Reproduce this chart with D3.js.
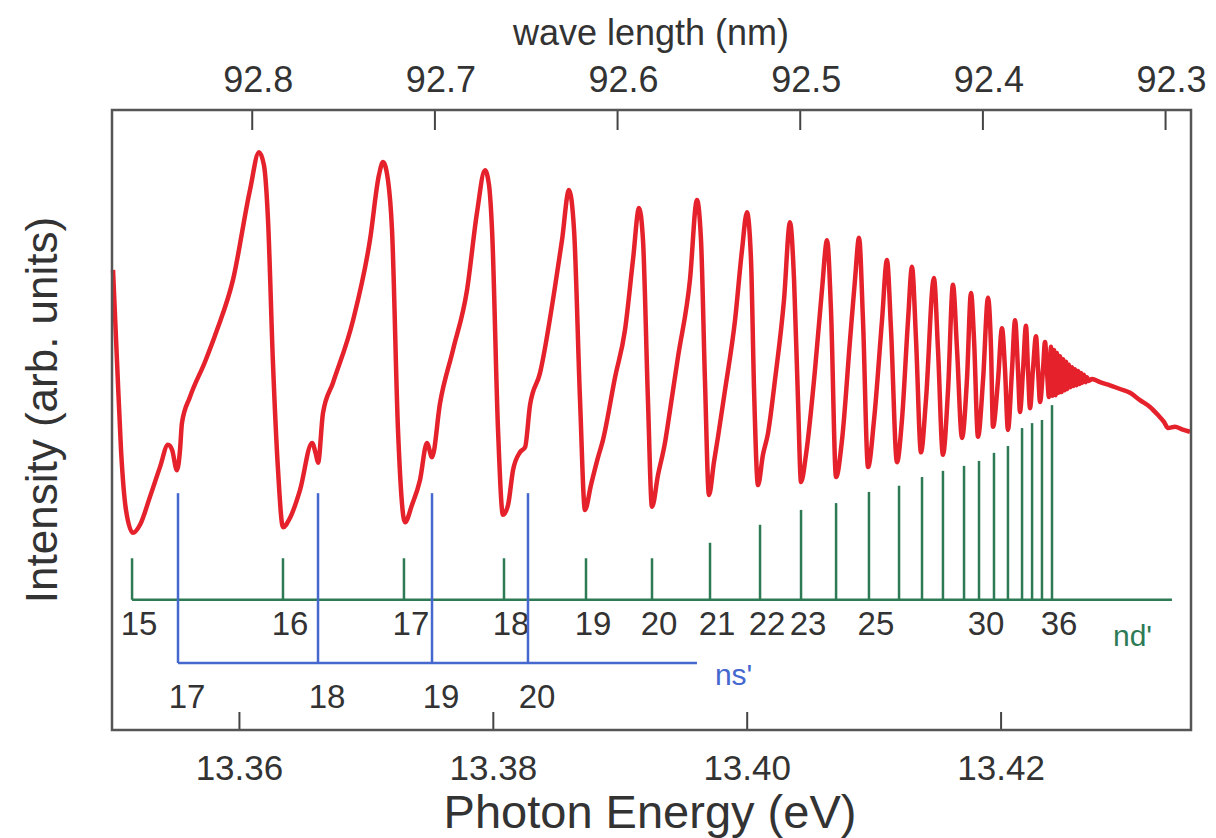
<!DOCTYPE html>
<html>
<head>
<meta charset="utf-8">
<script src="https://cdn.jsdelivr.net/npm/d3@7"></script>
<style>
body { margin: 0; background: #fff; }
text { font-family: "Liberation Sans", Arial, sans-serif; }
</style>
</head>
<body>
<div id="chart"></div>
<script>
// photon energy (eV) of the sampled points of the spectrum
const energy = [
  13.35008, 13.35039, 13.35071, 13.35110, 13.35165, 13.35221, 13.35299, 13.35378, 13.35441, 13.35473,
  13.35512, 13.35536, 13.35551, 13.35614, 13.35733, 13.35827, 13.35953, 13.36087, 13.36158, 13.36197,
  13.36229, 13.36268, 13.36308, 13.36347, 13.36402, 13.36481, 13.36576, 13.36607, 13.36623, 13.36662,
  13.36741, 13.36899, 13.37032, 13.37103, 13.37135, 13.37174, 13.37206, 13.37253, 13.37308, 13.37363,
  13.37426, 13.37481, 13.37521, 13.37584, 13.37686, 13.37797, 13.37875, 13.37938, 13.37970, 13.37994,
  13.38041, 13.38080, 13.38120, 13.38159, 13.38214, 13.38254, 13.38293, 13.38372, 13.38490, 13.38545,
  13.38600, 13.38640, 13.38687, 13.38726, 13.38773, 13.38829, 13.38868, 13.38963, 13.39041, 13.39104,
  13.39152, 13.39183, 13.39222, 13.39254, 13.39301, 13.39356, 13.39396, 13.39459, 13.39553, 13.39608,
  13.39640, 13.39671, 13.39703, 13.39742, 13.39774, 13.39829, 13.39908, 13.39963, 13.40002, 13.40034,
  13.40058, 13.40089, 13.40128, 13.40168, 13.40223, 13.40294, 13.40341, 13.40373, 13.40404, 13.40428,
  13.40467, 13.40538, 13.40593, 13.40633, 13.40664, 13.40704, 13.40751, 13.40814, 13.40853, 13.40885,
  13.40916, 13.40956, 13.41003, 13.41066, 13.41105, 13.41137, 13.41184, 13.41223, 13.41271, 13.41302,
  13.41334, 13.41373, 13.41412, 13.41475, 13.41507, 13.41546, 13.41586, 13.41625, 13.41657, 13.41696,
  13.41735, 13.41767, 13.41791, 13.41822, 13.41862, 13.41901, 13.41925, 13.41940, 13.41980, 13.42011,
  13.42035, 13.42058, 13.42090, 13.42114, 13.42137, 13.42153, 13.42177, 13.42200, 13.42216, 13.42232,
  13.42255, 13.42279, 13.42295, 13.42311, 13.42334, 13.42350, 13.42366, 13.42381,
  13.42397, 13.42409, 13.42421, 13.42433, 13.42444, 13.42456, 13.42468, 13.42480, 13.42492, 13.42504,
  13.42515, 13.42527, 13.42539, 13.42551, 13.42563, 13.42574, 13.42586, 13.42598, 13.42610, 13.42622,
  13.42633, 13.42645, 13.42657, 13.42669, 13.42681, 13.42693,
  13.42720, 13.42783, 13.42862, 13.42941, 13.43020, 13.43098, 13.43177,
  13.43240, 13.43287, 13.43319, 13.43374, 13.43429, 13.43492
];

// intensity (arb. units) at those energies
const intensity = [
  74.2, 59.7, 45.2, 35.5, 31.8, 33.1, 37.6, 42.4, 46.0, 45.2,
  41.9, 45.2, 49.5, 53.7, 59.4, 64.5, 72.6, 87.1, 93.2, 91.1,
  82.3, 59.2, 41.9, 32.7, 34.2, 38.7, 46.3, 44.4, 43.1, 51.1,
  56.0, 66.1, 79.0, 89.5, 91.6, 88.7, 80.6, 48.4, 33.5, 36.3,
  40.3, 46.3, 44.0, 52.7, 61.3, 71.0, 83.4, 90.3, 87.9, 80.6,
  48.4, 34.7, 36.3, 41.9, 44.8, 45.6, 52.4, 57.6, 71.5, 79.0,
  87.1, 80.6, 53.2, 35.5, 39.5, 44.0, 46.8, 56.9, 64.5, 75.8,
  84.2, 79.0, 53.2, 36.0, 41.1, 46.3, 51.6, 60.2, 72.6, 85.5,
  79.0, 56.5, 37.9, 43.2, 47.3, 54.8, 66.1, 77.4, 83.5, 75.8,
  54.8, 39.5, 44.4, 47.9, 56.5, 69.4, 81.9, 72.6, 53.2, 40.0,
  44.4, 58.1, 71.0, 79.0, 67.7, 40.8, 46.8, 62.9, 72.6, 79.4,
  66.1, 42.4, 50.0, 66.1, 75.8, 64.5, 43.2, 50.0, 66.1, 74.7,
  62.9, 44.8, 53.2, 72.9, 61.3, 44.4, 54.8, 71.8, 61.3, 47.1,
  56.5, 70.5, 62.9, 47.3, 56.5, 69.7, 61.3, 48.9, 56.5, 64.8,
  58.1, 48.4, 58.1, 66.1, 58.1, 51.3, 58.1, 65.2, 58.1, 51.9,
  58.1, 63.5, 58.1, 52.9, 58.1, 62.6, 57.7, 53.7,
  61.8, 53.9, 61.3, 54.0, 60.8, 54.4, 60.3, 54.5, 59.8, 54.8,
  59.4, 55.0, 58.9, 55.3, 58.5, 55.5, 58.2, 55.6, 57.9, 55.8,
  57.6, 56.0, 57.3, 56.1, 56.9, 56.3,
  56.6, 56.1, 55.6, 55.0, 54.4, 53.2, 52.1,
  50.8, 49.7, 48.7, 48.9, 48.5, 48.1
];

// nd' series: quantum numbers, energies and marker heights
const ndN = [15, 16, 17, 18, 19, 20, 21, 22, 23, 24, 25, 26, 27, 28, 29, 30, 31, 32, 33, 34, 35, 36];
const ndEnergy = [13.35158, 13.36347, 13.37300, 13.38088, 13.38734, 13.39254, 13.39711, 13.40105,
  13.40428, 13.40704, 13.40963, 13.41200, 13.41381, 13.41546, 13.41712, 13.41830, 13.41948,
  13.42058, 13.42169, 13.42248, 13.42326, 13.42405];
const ndHeight = [27.7, 27.7, 27.7, 27.7, 27.7, 27.7, 30.2, 33.1, 35.5, 36.6, 38.4, 39.4,
  40.8, 41.8, 42.6, 43.4, 44.7, 45.8, 48.7, 49.5, 50.0, 52.4];
const ndLabeled = [15, 16, 17, 18, 19, 20, 21, 22, 23, 25, 30, 36];

// ns' series
const nsN = [17, 18, 19, 20];
const nsEnergy = [13.35520, 13.36623, 13.37521, 13.38277];

const energyTicks = [13.36, 13.38, 13.40, 13.42];
const waveTicks = [92.8, 92.7, 92.6, 92.5, 92.4, 92.3];

// ladder levels (same intensity units)
const ndBase = 21.0, ndEnd = 13.4335;
const nsBase = 10.8, nsTop = 38.2, nsEnd = 13.39608;

const margin = {top: 110, right: 25, bottom: 108, left: 112},
    width = 1216 - margin.left - margin.right,
    height = 838 - margin.top - margin.bottom;

const svg = d3.select("#chart")
    .append("svg")
    .attr("width", 1216)
    .attr("height", 838);

const g = svg.append("g")
    .attr("transform", `translate(${margin.left},${margin.top})`);

const x = d3.scaleLinear().domain([13.35, 13.435]).range([0, width]);
const y = d3.scaleLinear().domain([0, 100]).range([height, 0]);
// wavelength axis on top
const xTop = d3.scaleLinear().domain([92.8765, 92.2858]).range([0, width]);

const red = "#e5222c", green = "#2d7a55", blue = "#4568cf", grey = "#333";

// green nd' ladder
g.append("line")
    .attr("x1", x(ndEnergy[0])).attr("x2", x(ndEnd))
    .attr("y1", y(ndBase)).attr("y2", y(ndBase))
    .attr("stroke", green).attr("stroke-width", 2.5);

g.selectAll(".nd")
    .data(ndN)
    .join("line")
    .attr("class", "nd")
    .attr("x1", (d, i) => x(ndEnergy[i]))
    .attr("x2", (d, i) => x(ndEnergy[i]))
    .attr("y1", y(ndBase))
    .attr("y2", (d, i) => y(ndHeight[i]))
    .attr("stroke", green).attr("stroke-width", 2.5);

g.selectAll(".ndlab")
    .data(ndLabeled)
    .join("text")
    .attr("class", "ndlab")
    .attr("x", d => x(ndEnergy[ndN.indexOf(d)]) + 7)
    .attr("y", y(ndBase) + 35)
    .attr("text-anchor", "middle")
    .attr("font-size", "33px")
    .attr("fill", grey)
    .text(d => d);

g.append("text")
    .attr("x", x(ndEnd) - 59)
    .attr("y", y(ndBase) + 46)
    .attr("font-size", "30px")
    .attr("fill", green)
    .text("nd'");

// blue ns' ladder
g.append("line")
    .attr("x1", x(nsEnergy[0])).attr("x2", x(nsEnd))
    .attr("y1", y(nsBase)).attr("y2", y(nsBase))
    .attr("stroke", blue).attr("stroke-width", 2.5);

g.selectAll(".ns")
    .data(nsN)
    .join("line")
    .attr("class", "ns")
    .attr("x1", (d, i) => x(nsEnergy[i]))
    .attr("x2", (d, i) => x(nsEnergy[i]))
    .attr("y1", y(nsBase))
    .attr("y2", y(nsTop))
    .attr("stroke", blue).attr("stroke-width", 2.5);

g.selectAll(".nslab")
    .data(nsN)
    .join("text")
    .attr("class", "nslab")
    .attr("x", (d, i) => x(nsEnergy[i]) + 9)
    .attr("y", y(nsBase) + 45)
    .attr("text-anchor", "middle")
    .attr("font-size", "33px")
    .attr("fill", grey)
    .text(d => d);

g.append("text")
    .attr("x", x(nsEnd) + 18)
    .attr("y", y(nsBase) + 22)
    .attr("font-size", "30px")
    .attr("fill", blue)
    .text("ns'");

// spectrum
const line = d3.line()
    .x(i => x(energy[i]))
    .y(i => y(intensity[i]))
    .curve(d3.curveMonotoneX);

g.append("path")
    .datum(d3.range(energy.length))
    .attr("d", line)
    .attr("fill", "none")
    .attr("stroke", red)
    .attr("stroke-width", 4.5)
    .attr("stroke-linejoin", "round");

// axes
const bottomAxis = g.append("g")
    .attr("transform", `translate(0,${height})`)
    .call(d3.axisBottom(x).tickValues(energyTicks).tickFormat(d3.format(".2f"))
        .tickSize(-18).tickPadding(25));
bottomAxis.select(".domain").remove();
bottomAxis.selectAll("line").attr("stroke", "#444").attr("stroke-width", 2);
bottomAxis.selectAll("text").attr("font-size", "35px").attr("fill", grey)
    .style("font-family", "'Liberation Sans', Arial, sans-serif");

const topAxis = g.append("g")
    .call(d3.axisTop(xTop).tickValues(waveTicks).tickFormat(d3.format(".1f"))
        .tickSize(-20).tickPadding(18));
topAxis.select(".domain").remove();
topAxis.selectAll("line").attr("stroke", "#444").attr("stroke-width", 2);
topAxis.selectAll("text").attr("font-size", "36px").attr("fill", grey).attr("dx", 6)
    .style("font-family", "'Liberation Sans', Arial, sans-serif");

// frame
g.append("rect")
    .attr("width", width).attr("height", height)
    .attr("fill", "none").attr("stroke", "#555").attr("stroke-width", 2.5);

// axis titles
svg.append("text")
    .attr("x", 651).attr("y", 45)
    .attr("text-anchor", "middle")
    .attr("font-size", "36px").attr("fill", grey)
    .text("wave length (nm)");

svg.append("text")
    .attr("x", 650).attr("y", 828)
    .attr("text-anchor", "middle")
    .attr("font-size", "47px").attr("fill", grey)
    .text("Photon Energy (eV)");

svg.append("text")
    .attr("transform", "translate(57,410) rotate(-90)")
    .attr("text-anchor", "middle")
    .attr("font-size", "44px").attr("fill", grey)
    .text("Intensity (arb. units)");
</script>
</body>
</html>
